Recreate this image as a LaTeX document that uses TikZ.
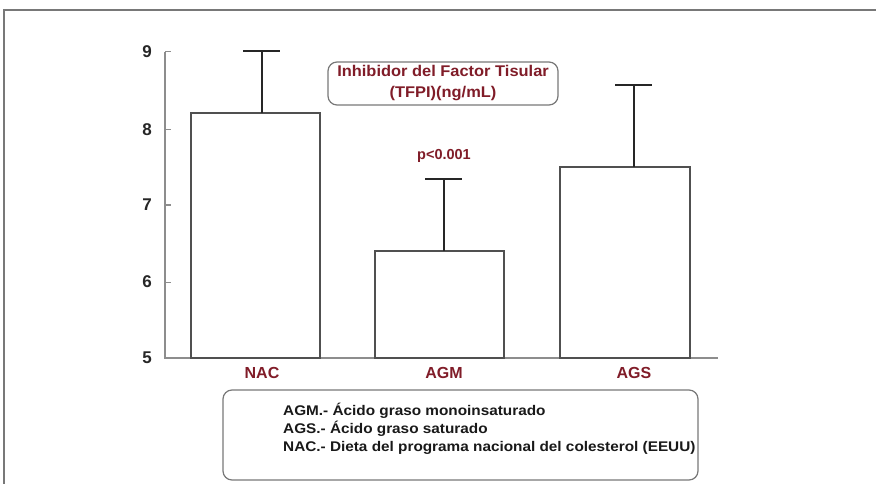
\documentclass[tikz,border=0pt]{standalone}
\usepackage{fontspec}
\usepackage{graphicx}
\setmainfont{Liberation Sans}
\definecolor{labred}{RGB}{128,28,40}
\definecolor{linegray}{RGB}{80,80,80}
\definecolor{framegray}{RGB}{120,120,120}
\begin{document}
\begin{tikzpicture}[x=1pt,y=-1pt,
  bar/.style={draw=linegray, line width=1.6pt, fill=white},
  errbar/.style={draw=black!85, line width=1.6pt},
  axisline/.style={draw=linegray!65, line width=1.8pt},
  tickmark/.style={draw=linegray!65, line width=1pt},
  ticklabel/.style={font=\fontsize{17}{17}\selectfont\bfseries, text=black!85},
  catlabel/.style={font=\fontsize{16}{16}\selectfont\bfseries, text=labred},
  roundbox/.style={draw=framegray, line width=1.2pt, rounded corners=9pt, fill=white},
]
\useasboundingbox (0,0) rectangle (876,484);
% outer frame (top and left edges)
\draw[framegray, line width=1.6pt] (4,484) -- (4,10) -- (876,10);

% axes
\draw[axisline] (165,52) -- (165,358) -- (718,358);
\foreach \v/\yy in {9/52,8/130,7/205,6/282,5/358}{
  \draw[tickmark] (165,\yy) -- (171,\yy);
  \node[ticklabel] (t\v) at (147,\yy) {\v};
}

% bars
\draw[bar] (191,358) rectangle (320,113);
\draw[bar] (375,358) rectangle (504,251);
\draw[bar] (560,358) rectangle (690,167);

% error bars
\draw[errbar] (262,113) -- (262,51);
\draw[errbar] (243,51) -- (280,51);
\draw[errbar] (444,251) -- (444,179);
\draw[errbar] (425,179) -- (462,179);
\draw[errbar] (634,167) -- (634,85);
\draw[errbar] (615,85) -- (652,85);

% category labels
\node[catlabel] (nac) at (262,373) {NAC};
\node[catlabel] (agm) at (444,373) {AGM};
\node[catlabel] (ags) at (634,373) {AGS};

% significance
\node[font=\fontsize{14.5}{14.5}\selectfont\bfseries, text=labred] (pval) at (444,156) {p<0.001};

% title box
\draw[roundbox] (328,62) rectangle (558,105);
\node[font=\fontsize{15.5}{21}\selectfont\bfseries, text=labred] (title) at (443,83)
  {\scalebox{1.06}[1]{\begin{tabular}{@{}c@{}}Inhibidor del Factor Tisular\\(TFPI)(ng/mL)\end{tabular}}};

% legend box
\draw[roundbox] (223,390) rectangle (698,480);
\node[font=\fontsize{14}{18}\selectfont\bfseries, text=black!90, anchor=north west, inner sep=0pt] (legend) at (283,403)
  {\scalebox{1.095}[1]{\begin{tabular}{@{}l@{}}AGM.- Ácido graso monoinsaturado\\
   AGS.- Ácido graso saturado\\
   NAC.- Dieta del programa nacional del colesterol (EEUU)\end{tabular}}};
\end{tikzpicture}
\end{document}
